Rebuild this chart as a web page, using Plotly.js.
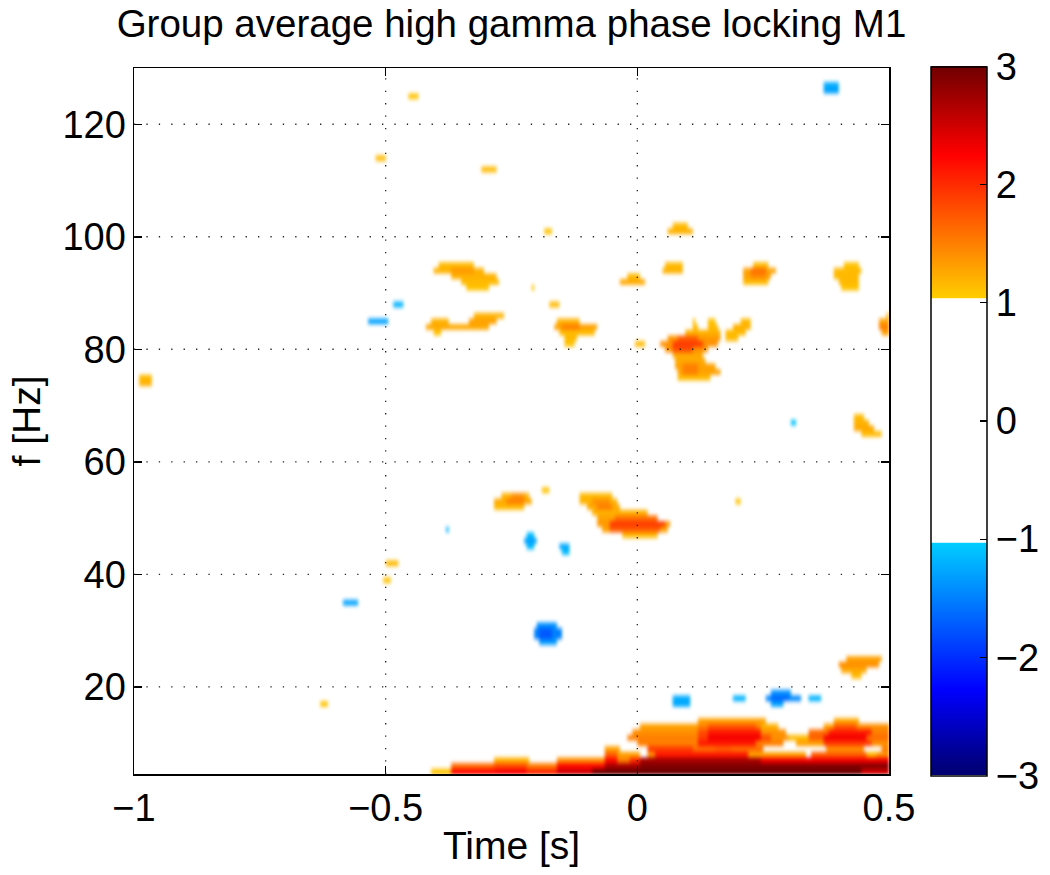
<!DOCTYPE html>
<html><head><meta charset="utf-8">
<script src="https://cdn.plot.ly/plotly-3.0.1.min.js"></script>
<style>html,body{margin:0;padding:0;background:#fff}</style>
</head><body>
<svg width="0" height="0" style="position:absolute"><defs><filter id="soften" filterUnits="objectBoundingBox" x="0" y="0" width="1" height="1" color-interpolation-filters="sRGB"><feGaussianBlur stdDeviation="1.6" edgeMode="duplicate"/></filter></defs></svg>
<div id="chart" style="width:1050px;height:875px"></div>
<script>
const xTicks=[-1,-0.5,0,0.5];
const yTicks=[20,40,60,80,100,120];
const barTicks=[-3,-2,-1,0,1,2,3];
const gridX=[-0.5,0];
const gridY=[20,40,60,80,100,120];
const barSideTicks=[-2,-1,0,1,2];
// each row: frequency [Hz], start [s], end [s], phase locking value; later rows paint over earlier ones
const lowBand=[
[14,0.121,0.25,1.3],[14,0.395,0.437,1.25],
[13,0.005,0.12,1.3],[13,0.12,0.14,1.5],[13,0.14,0.24,1.75],[13,0.24,0.25,1.5],[13,0.25,0.278,1.2],[13,0.373,0.395,1.3],[13,0.395,0.44,1.75],[13,0.44,0.5,1.4],
[12,-0.01,0.12,1.4],[12,0.12,0.14,1.8],[12,0.14,0.25,2.1],[12,0.25,0.29,1.4],[12,0.343,0.38,1.6],[12,0.38,0.47,2.1],[12,0.47,0.5,1.5],
[11,-0.02,0.12,1.5],[11,0.12,0.14,1.9],[11,0.14,0.25,2.3],[11,0.25,0.27,1.8],[11,0.27,0.3,1.4],[11,0.3,0.343,1.15],[11,0.343,0.37,1.7],[11,0.37,0.46,2.3],[11,0.46,0.5,1.6],
[10,0,0.12,1.5],[10,0.12,0.24,2.1],[10,0.24,0.288,1.5],[10,0.317,0.37,1.3],[10,0.37,0.47,1.9],[10,0.47,0.5,1.4],
[9,0.022,0.111,1.9],[9,0.111,0.158,1.6],[9,0.158,0.19,1.7],[9,0.19,0.247,1.6],[9,0.376,0.449,1.4],[9,0.486,0.5,1.5],
[8,0.022,0.035,1.4],[8,0.035,0.224,2.1],[8,0.224,0.247,1.3],[8,0.247,0.33,1.3],[8,0.346,0.46,1.7],[8,0.46,0.475,1.15],[8,0.475,0.5,1.4],
[9,-0.064,-0.038,1.3],
[8,-0.064,-0.038,1.7],[8,-0.038,0.005,1.3],
[7,-0.281,-0.217,1.2],[7,-0.16,-0.064,1.4],[7,-0.064,-0.038,2.2],[7,-0.038,-0.015,1.5],[7,-0.015,0.005,2.0],[7,0.005,0.25,2.7],[7,0.25,0.5,2.3],
[6,-0.366,-0.281,1.6],[6,-0.281,-0.217,1.8],[6,-0.217,-0.16,1.5],[6,-0.16,-0.064,2.2],[6,-0.064,0.005,2.7],[6,0.005,0.5,2.9],
[5,-0.406,-0.366,1.1],[5,-0.366,-0.28,2.2],[5,-0.28,-0.217,2.3],[5,-0.217,-0.16,2.0],[5,-0.16,-0.09,2.5],[5,-0.09,0.45,3],[5,0.45,0.5,2.5]
];
const band50=[
[54,-0.27,-0.218,1.2],[53,-0.285,-0.213,1.25],[52,-0.285,-0.226,1.15],[53,-0.26,-0.23,1.5],[54,-0.25,-0.23,1.4],
[55,-0.185,-0.178,1.1],
[54,-0.112,-0.051,1.15],[53,-0.112,-0.044,1.2],[52,-0.1,-0.038,1.25],[51,-0.087,0.017,1.2],[50,-0.08,0.033,1.3],[49,-0.08,0.06,1.35],[48,-0.066,0.055,1.3],[47,-0.026,0.039,1.15],
[53,-0.09,-0.06,1.4],[52,-0.08,-0.05,1.5],[50,-0.04,0.035,1.6],[49,-0.05,0.05,1.9],[48,-0.05,0.04,1.7],
[53,0.196,0.204,1.1],[48,-0.38,-0.376,-1.2]
];
const band84=[
[95,-0.395,-0.329,1.15],[94,-0.405,-0.309,1.2],[93,-0.369,-0.283,1.2],[92,-0.346,-0.279,1.15],[91,-0.336,-0.296,1.1],[94,-0.37,-0.33,1.35],
[91,-0.21,-0.206,1.1],
[86,-0.322,-0.266,1.2],[85,-0.409,-0.379,1.2],[85,-0.332,-0.283,1.3],[84,-0.419,-0.296,1.25],[83,-0.402,-0.393,1.1],
[88,-0.17,-0.16,1.15],
[85,-0.159,-0.12,1.2],[84,-0.163,-0.081,1.3],[83,-0.153,-0.087,1.15],[82,-0.144,-0.124,1.15],[81,-0.142,-0.126,1.1],[84,-0.15,-0.12,1.5],
[102,0.075,0.1,1.15],[101,0.064,0.105,1.2],
[95,0.055,0.088,1.15],[94,0.052,0.09,1.2],
[93,-0.02,0.005,1.15],[92,-0.034,0.01,1.25],
[95,0.232,0.258,1.15],[94,0.214,0.27,1.3],[93,0.214,0.262,1.3],[92,0.211,0.258,1.15],[94,0.225,0.25,1.6],[93,0.225,0.25,1.45],
[95,0.413,0.435,1.1],[94,0.393,0.442,1.15],[93,0.393,0.439,1.15],[92,0.404,0.437,1.15],[91,0.409,0.436,1.1],
[86,0.495,0.5,1.2],[85,0.482,0.5,1.3],[84,0.481,0.5,1.5],[83,0.489,0.5,1.3],
[81,-0.005,0.01,1.15],
[85,0.209,0.223,1.15],[84,0.191,0.224,1.2],[83,0.179,0.211,1.15],[82,0.179,0.196,1.15],
[85,0.11,0.114,1.1],[85,0.144,0.151,1.1],[84,0.11,0.116,1.15],[84,0.142,0.155,1.15],
[83,0.098,0.164,1.2],[82,0.065,0.161,1.35],[81,0.048,0.158,1.4],[80,0.055,0.135,1.4],[79,0.075,0.125,1.25],[78,0.078,0.131,1.25],[77,0.078,0.151,1.3],[76,0.08,0.161,1.3],[75,0.082,0.144,1.15],
[82,0.08,0.12,1.7],[81,0.07,0.125,1.9],[80,0.07,0.11,1.8],[77,0.09,0.12,1.5],[76,0.09,0.12,1.5]
];
const isolated=[
[75,-0.99,-0.97,1.15],[74,-0.99,-0.97,1.2],
[125,-0.45,-0.44,1.1],[114,-0.517,-0.501,1.15],[112,-0.305,-0.283,1.15],[101,-0.181,-0.173,1.1],
[68,0.433,0.446,1.15],[67,0.433,0.458,1.2],[66,0.433,0.466,1.25],[65,0.448,0.484,1.15],
[42,-0.5,-0.48,1.15],[39,-0.503,-0.493,1.1],[17,-0.63,-0.618,1.1],
[25,0.419,0.482,1.3],[24,0.405,0.478,1.4],[23,0.409,0.452,1.25],[22,0.427,0.442,1.15]
];
const negative=[
[127,0.375,0.399,-1.25],[126,0.375,0.399,-1.3],
[88,-0.483,-0.467,-1.2],[85,-0.535,-0.497,-1.3],[67,0.309,0.313,-1.1],
[47,-0.216,-0.209,-1.15],[46,-0.222,-0.202,-1.3],[45,-0.218,-0.207,-1.15],
[45,-0.155,-0.138,-1.25],[44,-0.15,-0.14,-1.15],
[35,-0.583,-0.559,-1.3],
[31,-0.195,-0.165,-1.4],[30,-0.203,-0.152,-1.5],[29,-0.203,-0.152,-1.5],[28,-0.192,-0.163,-1.35],[30,-0.19,-0.17,-1.75],[29,-0.19,-0.17,-1.75],
[18,0.075,0.103,-1.25],[17,0.075,0.103,-1.25],[18,0.192,0.212,-1.2],
[19,0.27,0.302,-1.4],[18,0.259,0.321,-1.45],[17,0.269,0.289,-1.3],[18,0.27,0.295,-1.65],[18,0.34,0.363,-1.2]
];
const timeStep=0.005, timeStart=-0.9975, timeCount=300;
const freqStart=5, freqCount=126;
const times=[],freqs=[];
for(let i=0;i<timeCount;i++)times.push(timeStart+i*timeStep);
for(let j=0;j<freqCount;j++)freqs.push(freqStart+j);
const z=freqs.map(()=>times.map(()=>0));
[lowBand,band50,band84,isolated,negative].forEach(tbl=>tbl.forEach(([f,a,b,v])=>{
  const row=z[f-freqStart];
  times.forEach((t,i)=>{if(t>=a-0.0025&&t<=b+0.0025)row[i]=v;});
}));
const colorStops=[[0,'rgb(0,0,110)'],[0.12,'rgb(0,0,255)'],[0.3267,'rgb(0,205,255)'],[0.3283,'rgb(255,255,255)'],[0.6717,'rgb(255,255,255)'],[0.6733,'rgb(255,205,0)'],[0.875,'rgb(255,0,0)'],[1,'rgb(110,0,0)']];
const FONT='"Liberation Sans", Arial, sans-serif';
const dot={color:'#222',width:1.3,dash:'1.3px,11.1px'};
const shapes=[];
gridX.forEach(v=>shapes.push({type:'line',layer:'above',xref:'x',yref:'paper',x0:v,x1:v,y0:0,y1:1,line:dot}));
gridY.forEach(v=>shapes.push({type:'line',layer:'above',xref:'paper',yref:'y',x0:0,x1:1,y0:v,y1:v,line:dot}));
barSideTicks.forEach(v=>{const p=(v+3)/6;shapes.push({type:'line',xref:'paper',yref:'paper',x0:1.0556,x1:1.0556+7/755,y0:p,y1:p,line:{color:'#000',width:1.2}});});
Plotly.newPlot('chart',[{type:'heatmap',x:times,y:freqs,z:z,zmin:-3,zmax:3,colorscale:colorStops,hoverinfo:'skip',
  colorbar:{x:1.0556,xanchor:'left',xref:'paper',thickness:56,thicknessmode:'pixels',len:1.004,lenmode:'fraction',y:0.5,yanchor:'middle',ypad:0,xpad:0,
    outlinecolor:'#000',outlinewidth:1.5,ticks:'inside',ticklen:7,tickwidth:1.2,tickcolor:'#000',tickmode:'array',tickvals:barTicks,tickfont:{family:FONT,size:38,color:'#000'}}}],
 {width:1050,height:875,paper_bgcolor:'#fff',plot_bgcolor:'#fff',margin:{l:134,r:161,t:68,b:101,pad:0,autoexpand:false},
  font:{family:FONT,size:38,color:'#000'},
  title:{text:'Group average high gamma phase locking M1',font:{family:FONT,size:38.5,color:'#000'},x:0.5,xanchor:'center',y:0.9735,yanchor:'middle',xref:'paper'},
  xaxis:{range:[-1,0.5],tickmode:'array',tickvals:xTicks,ticks:'inside',ticklen:8,tickwidth:1.5,tickcolor:'#000',showline:true,linecolor:'#000',linewidth:1.5,mirror:'allticks',showgrid:false,zeroline:false,tickfont:{family:FONT,size:38},title:{text:'Time [s]',font:{family:FONT,size:39},standoff:3}},
  yaxis:{range:[4.5,130],tickmode:'array',tickvals:yTicks,ticks:'inside',ticklen:8,tickwidth:1.5,tickcolor:'#000',showline:true,linecolor:'#000',linewidth:1.5,mirror:'allticks',showgrid:false,zeroline:false,tickfont:{family:FONT,size:38},ticklabelstandoff:-1,title:{text:'f [Hz]',font:{family:FONT,size:39},standoff:10}},
  shapes:shapes},{displayModeBar:false,staticPlot:true}).then(gd=>{
  const ims=gd.querySelectorAll('image');
  ims.forEach(im=>{im.setAttribute('filter','url(#soften)');im.style.filter='url(#soften)';im.style.imageRendering='auto';});
});
</script></body></html>
